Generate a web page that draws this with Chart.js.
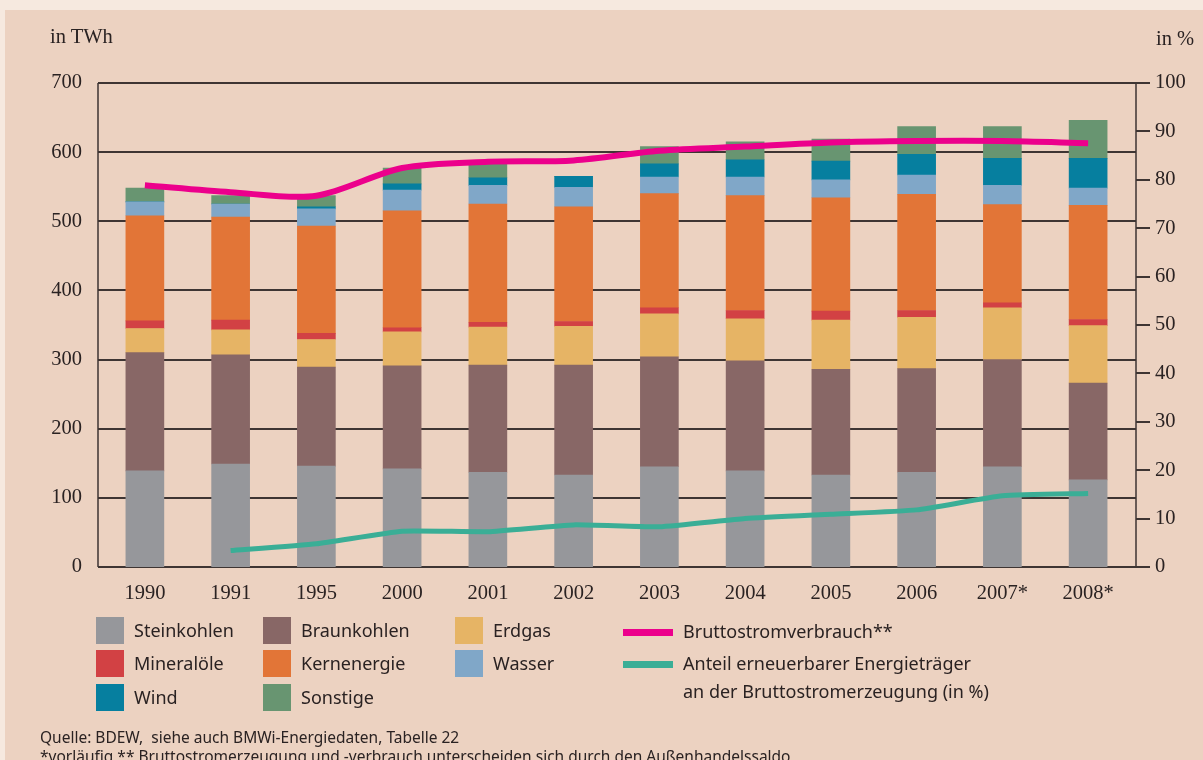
<!DOCTYPE html>
<html lang="de">
<head>
<meta charset="utf-8">
<title>Bruttostromerzeugung</title>
<script src="https://cdn.jsdelivr.net/npm/chart.js"></script>
<style>
  html, body { margin: 0; padding: 0; background: #f6e9df; }
  #panel { position: absolute; left: 5px; top: 10px; width: 1198px; height: 750px; background: #ecd2c1; }
  #wrap { position: absolute; left: 0; top: 0; width: 1203px; height: 760px; }
  .unit { position: absolute; font-family: "Liberation Serif", serif; font-size: 20.5px; color: #2a2222; }
  .leg { position: absolute; font-family: "Noto Sans", sans-serif; font-size: 18px; color: #2a2222; line-height: 22px; white-space: nowrap; }
  .box { position: absolute; width: 28px; height: 27px; }
  .bar { position: absolute; width: 50px; height: 7px; }
  .foot { position: absolute; left: 40px; font-family: "Noto Sans", sans-serif; font-size: 15.5px; color: #2a2222; white-space: nowrap; }
</style>
</head>
<body>
<div id="panel"></div>
<div id="wrap"><canvas id="chart" width="1203" height="760"></canvas></div>
<div class="unit" style="left:50px;top:25px;">in TWh</div>
<div class="unit" style="left:1156px;top:27px;">in %</div>
<div id="legend"></div>
<div class="foot" style="top:726px;">Quelle: BDEW,&nbsp; siehe auch BMWi-Energiedaten, Tabelle 22</div>
<div class="foot" style="top:745px;">*vorläufig ** Bruttostromerzeugung und -verbrauch unterscheiden sich durch den Außenhandelssaldo</div>
<script>
const years = ['1990', '1991', '1995', '2000', '2001', '2002', '2003', '2004', '2005', '2006', '2007*', '2008*'];

const steinkohlen = [139, 149, 146, 142, 137, 133, 145, 139, 133, 137, 145, 126];
const braunkohlen = [171, 158, 143, 149, 155, 159, 159, 159, 153, 150, 155, 140];
const erdgas      = [35, 36, 40, 49, 55, 56, 62, 61, 71, 74, 75, 83];
const mineraloele = [11, 14, 9, 6, 7, 7, 9, 12, 13, 10, 7, 9];
const kernenergie = [152, 149, 155, 169, 171, 166, 165, 166, 164, 168, 142, 165];
const wasser      = [20, 19, 25, 30, 27, 28, 24, 27, 26, 28, 28, 25];
const wind        = [0, 0, 3, 9, 11, 16, 19, 25, 27, 30, 39, 43];
const sonstige    = [20, 12, 16, 23, 20, 0, 25, 26, 32, 40, 46, 55];

const verbrauch = [552, 542, 537, 577, 586, 588, 602, 608, 614, 616, 616, 613];
const anteilErneuerbar = [null, 3.4, 4.8, 7.4, 7.3, 8.7, 8.3, 10.0, 10.9, 11.8, 14.7, 15.2];

const leftTicks = [0, 100, 200, 300, 400, 500, 600, 700];
const rightTicks = [0, 10, 20, 30, 40, 50, 60, 70, 80, 90, 100];

const barSeries = [
  ['Steinkohlen', steinkohlen, '#96979b'],
  ['Braunkohlen', braunkohlen, '#886766'],
  ['Erdgas', erdgas, '#e6b465'],
  ['Mineralöle', mineraloele, '#d24144'],
  ['Kernenergie', kernenergie, '#e27537'],
  ['Wasser', wasser, '#80a7c8'],
  ['Wind', wind, '#067f9f'],
  ['Sonstige', sonstige, '#689571']
];

const datasets = [
  { type: 'line', label: 'Bruttostromverbrauch**', data: verbrauch, yAxisID: 'y', stack: 'verbrauch',
    borderColor: '#ec008c', borderWidth: 6, pointRadius: 0, tension: 0.3, borderCapStyle: 'butt', order: 0 },
  { type: 'line', label: 'Anteil erneuerbarer Energieträger', data: anteilErneuerbar, yAxisID: 'y1',
    borderColor: '#3aae96', borderWidth: 5, pointRadius: 0, tension: 0.15, borderCapStyle: 'butt', order: 0 }
];
barSeries.forEach(s => datasets.push({
  type: 'bar', label: s[0], data: s[1], backgroundColor: s[2], yAxisID: 'y',
  stack: 'mix', barThickness: 38, order: 1
}));

// frame, grid and right ticks reach a little past the category area
const framePlugin = {
  id: 'frame',
  beforeDatasetsDraw(chart) {
    const { ctx, chartArea, scales } = chart;
    const l = chartArea.left - 4, r = chartArea.right + 5;
    ctx.save();
    ctx.strokeStyle = '#3e3533';
    ctx.lineWidth = 2;
    leftTicks.forEach(v => {
      const y = Math.round(scales.y.getPixelForValue(v));
      ctx.beginPath(); ctx.moveTo(l, y); ctx.lineTo(r, y); ctx.stroke();
    });
    ctx.lineWidth = 1.5;
    ctx.beginPath();
    ctx.moveTo(l, scales.y.getPixelForValue(700)); ctx.lineTo(l, scales.y.getPixelForValue(0));
    ctx.moveTo(r, scales.y.getPixelForValue(700)); ctx.lineTo(r, scales.y.getPixelForValue(0));
    ctx.stroke();
    ctx.lineWidth = 2;
    rightTicks.forEach(v => {
      const y = Math.round(scales.y1.getPixelForValue(v));
      ctx.beginPath(); ctx.moveTo(r, y); ctx.lineTo(r + 14, y); ctx.stroke();
    });
    ctx.restore();
  }
};

const tickFont = { family: 'Liberation Serif', size: 20.5 };

new Chart(document.getElementById('chart'), {
  data: { labels: years, datasets: datasets },
  options: {
    responsive: false,
    animation: false,
    layout: { padding: { top: 83, bottom: 153, left: 0, right: 0 } },
    plugins: { legend: { display: false }, tooltip: { enabled: false } },
    scales: {
      x: {
        stacked: true,
        grid: { display: false, drawTicks: false },
        border: { display: false },
        ticks: { font: tickFont, color: '#2a2222', padding: 14, maxRotation: 0 },
        afterFit(s) { s.height = 40; }
      },
      y: {
        stacked: true, min: 0, max: 700,
        grid: { display: false, drawTicks: false },
        border: { display: false },
        ticks: { stepSize: 100, font: tickFont, color: '#2a2222', padding: 20 },
        afterFit(s) { s.width = 102; }
      },
      y1: {
        position: 'right', min: 0, max: 100,
        grid: { display: false, drawTicks: false },
        border: { display: false },
        ticks: { stepSize: 10, font: tickFont, color: '#2a2222', padding: 24 },
        afterFit(s) { s.width = 72; }
      }
    }
  },
  plugins: [framePlugin]
});

// legend
const legend = document.getElementById('legend');
const cols = [96, 263, 455];
const rows = [617, 650, 684];
barSeries.forEach((s, i) => {
  const cx = cols[i % 3], cy = rows[Math.floor(i / 3)];
  legend.insertAdjacentHTML('beforeend',
    `<div class="box" style="left:${cx}px;top:${cy}px;background:${s[2]}"></div>` +
    `<div class="leg" style="left:${cx + 38}px;top:${cy + 2}px">${s[0]}</div>`);
});
legend.insertAdjacentHTML('beforeend',
  `<div class="bar" style="left:623px;top:629px;background:#ec008c"></div>` +
  `<div class="leg" style="left:683px;top:620px">Bruttostromverbrauch**</div>` +
  `<div class="bar" style="left:623px;top:661px;background:#3aae96"></div>` +
  `<div class="leg" style="left:683px;top:652px">Anteil erneuerbarer Energieträger</div>` +
  `<div class="leg" style="left:683px;top:680px">an der Bruttostromerzeugung (in %)</div>`);
</script>
</body>
</html>
